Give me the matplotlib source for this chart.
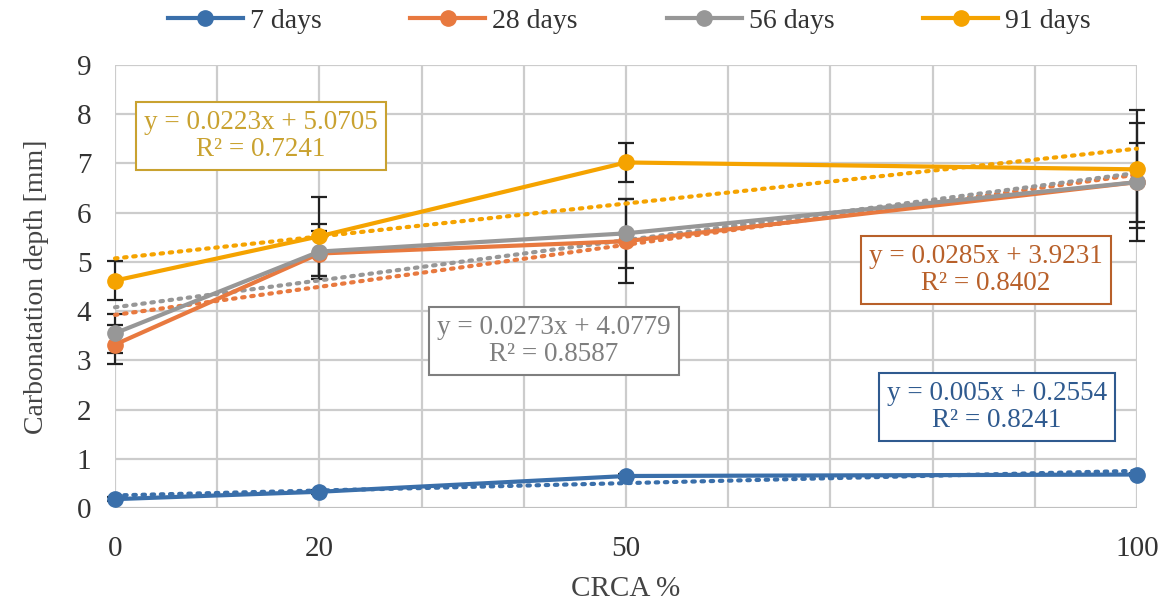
import matplotlib
matplotlib.use("Agg")
import matplotlib.pyplot as plt
import numpy as np

plt.rcParams['font.family'] = ['Liberation Serif', 'DejaVu Serif']

crca = [0, 20, 50, 100]
series_names = ["7 days", "28 days", "56 days", "91 days"]
d7 = [0.18, 0.33, 0.65, 0.68]
d28 = [3.32, 5.17, 5.42, 6.62]
d56 = [3.55, 5.21, 5.58, 6.62]
d91 = [4.62, 5.52, 7.02, 6.88]
err7 = [0.04, 0.04, 0.04, 0.04]
err28 = [0.40, 0.45, 0.85, 1.20]
err56 = [0.40, 0.55, 0.70, 0.80]
err91 = [0.40, 0.80, 0.40, 1.20]
slopes = [0.005, 0.0285, 0.0273, 0.0223]
intercepts = [0.2554, 3.9231, 4.0779, 5.0705]
eq_texts = ["y = 0.005x + 0.2554\nR² = 0.8241",
            "y = 0.0285x + 3.9231\nR² = 0.8402",
            "y = 0.0273x + 4.0779\nR² = 0.8587",
            "y = 0.0223x + 5.0705\nR² = 0.7241"]
x_tick_labels = {0: "0", 20: "20", 50: "50", 100: "100"}

line_colors = ["#3A6FAA", "#E8793F", "#979797", "#F5A300"]
text_colors = ["#2F5A8F", "#B8602A", "#7F7F7F", "#C9A230"]
eq_pos = [(997, 407), (986, 270), (554, 341), (261, 136)]

W, H = 1163, 601
fig = plt.figure(figsize=(W / 100, H / 100), dpi=100)
ax = fig.add_axes([115 / W, 1 - 508 / H, (1137 - 115) / W, (508 - 65) / H])

ax.set_xlim(0, 100)
ax.set_ylim(0, 9)
ax.set_xticks(range(0, 101, 10))
ax.set_xticklabels([x_tick_labels.get(v, "") for v in range(0, 101, 10)], fontsize=21,
                   color="#333333")
ax.set_yticks(range(0, 10))
ax.set_yticklabels([str(v) for v in range(0, 10)], fontsize=21, color="#333333")
ax.tick_params(axis='x', length=0, pad=20)
ax.tick_params(axis='y', length=0, pad=17)
ax.grid(True, color="#CCCCCC", lw=1.6)
ax.set_axisbelow(True)
for s in ax.spines.values():
    s.set_visible(False)
ax.axhline(0, color="#BFBFBF", lw=2, zorder=1)

datas = [d7, d28, d56, d91]
errs = [err7, err28, err56, err91]
xs = np.array([0, 100])
handles = []
for i in range(4):
    ax.errorbar(crca, datas[i], yerr=errs[i], fmt='none', ecolor='#222222',
                elinewidth=1.6, capsize=5.5, capthick=1.6, zorder=2, clip_on=False)
for i in range(4):
    ax.plot(xs, slopes[i] * xs + intercepts[i], ls=(0, (0.6, 1.6)), lw=3,
            color=line_colors[i], dash_capstyle='round', zorder=3, clip_on=False)
for i in range(4):
    h, = ax.plot(crca, datas[i], color=line_colors[i], lw=3, marker='o', ms=11,
                 zorder=4, clip_on=False, label=series_names[i])
    handles.append(h)

for i in range(4):
    x, y = eq_pos[i]
    fig.text(x / W, 1 - y / H, eq_texts[i], ha='center', va='center', fontsize=19.5,
             color=text_colors[i], linespacing=1.1,
             bbox=dict(boxstyle='square,pad=0.3', fc='white', ec=text_colors[i], lw=1.5))

fig.legend(handles=handles, loc='center', bbox_to_anchor=(0.541, 1 - 21 / H), ncol=4,
           frameon=False, fontsize=20, handlelength=2.7, columnspacing=3.2,
           handletextpad=0.25, labelcolor="#333333")

ax.set_xlabel("CRCA %", fontsize=21, labelpad=10, color="#444444")
ax.set_ylabel("Carbonatation depth [mm]", fontsize=20, labelpad=20, color="#444444")

fig.savefig("out.png", dpi=100)
